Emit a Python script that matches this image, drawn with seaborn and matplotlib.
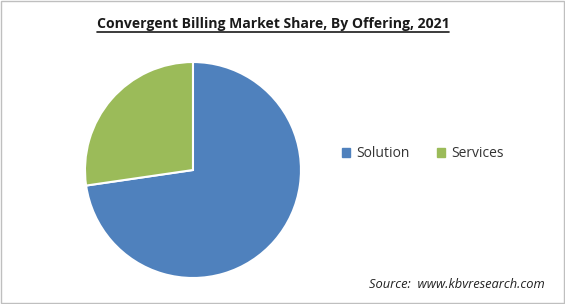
import matplotlib
matplotlib.use("Agg")
import matplotlib.pyplot as plt
import seaborn as sns
from matplotlib.patches import Rectangle
from matplotlib.lines import Line2D

segments = ["Solution", "Services"]
shares = [72.7, 27.3]
colors = ["#4F81BD", "#9BBB59"]

sns.set_theme(style="white")
plt.rcParams['font.family'] = ['Open Sans', 'DejaVu Sans']

fig = plt.figure(figsize=(5.65, 3.04), dpi=100)
ax = fig.add_axes([0.1504, 0.0855, 0.3823, 0.7105])
ax.pie(shares, colors=colors, startangle=90, counterclock=False,
       wedgeprops=dict(edgecolor="white", linewidth=1.5))
ax.set_xlim(-1.0, 1.0)
ax.set_ylim(-1.0, 1.0)
ax.set_aspect("equal")
ax.axis("off")

# title with underline
title = fig.text(0.483, 0.92, "Convergent Billing Market Share, By Offering, 2021",
                 ha="center", va="center", fontsize=10.1, fontweight="bold", color="#1a1a1a")
fig.canvas.draw()
bb = title.get_window_extent().transformed(fig.transFigure.inverted())
fig.add_artist(Line2D([bb.x0, bb.x1], [bb.y0 - 0.003, bb.y0 - 0.003], color="#1a1a1a",
                      linewidth=1.2, transform=fig.transFigure))

handles = [Rectangle((0, 0), 1, 1, color=c) for c in colors]
fig.legend(handles, segments, loc="center", bbox_to_anchor=(0.748, 0.494), ncol=2,
           frameon=False, fontsize=10, handlelength=0.6, handleheight=0.6,
           handletextpad=0.4, columnspacing=2.0, labelcolor="#333333")

fig.text(0.965, 0.065, "Source:  www.kbvresearch.com", ha="right", va="center",
         fontsize=9.3, style="italic", color="#222222")

fig.add_artist(Rectangle((0.001, 0.002), 0.997, 0.995, transform=fig.transFigure,
                         fill=False, edgecolor="#bfbfbf", linewidth=1))

fig.savefig("out.png", dpi=100)
